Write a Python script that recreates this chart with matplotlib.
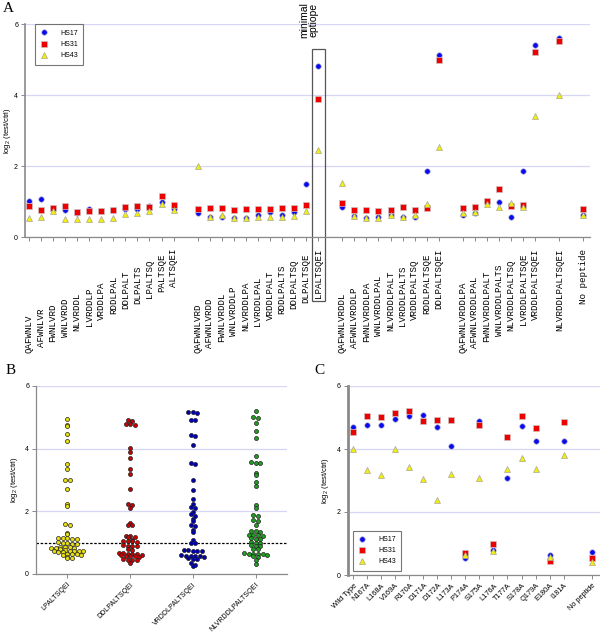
import numpy as np
import matplotlib
matplotlib.use('Agg')
import matplotlib.pyplot as plt
from matplotlib.patches import Rectangle

plt.rcParams['font.family'] = ['Liberation Sans', 'DejaVu Sans']
plt.rcParams['mathtext.default'] = 'regular'

seq = 'QAFWNLVRDDLPALTSQEI'

# panel A: peptide groups (a gap is left between groups)
groups_a = [
    ['QAFWNLV', 'AFWNLVR', 'FWNLVRD', 'WNLVRDD', 'NLVRDDL', 'LVRDDLP', 'VRDDLPA',
     'RDDLPAL', 'DDLPALT', 'DLPALTS', 'LPALTSQ', 'PALTSQE', 'ALTSQEI'],
    ['QAFWNLVRD', 'AFWNLVRDD', 'FWNLVRDDL', 'WNLVRDDLP', 'NLVRDDLPA', 'LVRDDLPAL',
     'VRDDLPALT', 'RDDLPALTS', 'DDLPALTSQ', 'DLPALTSQE', 'LPALTSQEI'],
    ['QAFWNLVRDDL', 'AFWNLVRDDLP', 'FWNLVRDDLPA', 'WNLVRDDLPAL', 'NLVRDDLPALT',
     'LVRDDLPALTS', 'VRDDLPALTSQ', 'RDDLPALTSQE', 'DDLPALTSQEI'],
    ['QAFWNLVRDDLPA', 'AFWNLVRDDLPAL', 'FWNLVRDDLPALT', 'WNLVRDDLPALTS',
     'NLVRDDLPALTSQ', 'LVRDDLPALTSQE', 'VRDDLPALTSQEI'],
    ['NLVRDDLPALTSQEI'],
    ['No peptide'],
]

hs17_a = [1.02, 1.07, 0.82, 0.75, 0.68, 0.78, 0.72, 0.76, 0.80, 0.79, 0.88, 0.99, 0.78,
          0.67, 0.57, 0.57, 0.55, 0.55, 0.61, 0.70, 0.62, 0.70, 1.50, 4.81,
          0.84, 0.58, 0.53, 0.57, 0.63, 0.57, 0.57, 1.86, 5.13,
          0.63, 0.69, 0.99, 0.98, 0.56, 1.87, 5.43,
          5.60, 0.62]
hs31_a = [0.88, 0.75, 0.82, 0.88, 0.70, 0.74, 0.72, 0.75, 0.84, 0.88, 0.85, 1.15, 0.90,
          0.79, 0.83, 0.83, 0.76, 0.79, 0.79, 0.79, 0.83, 0.83, 0.91, 3.89,
          0.97, 0.77, 0.77, 0.74, 0.76, 0.84, 0.75, 0.83, 4.99,
          0.83, 0.84, 1.02, 1.36, 0.87, 0.91, 5.23,
          5.52, 0.79]
hs43_a = [0.55, 0.57, 0.72, 0.52, 0.50, 0.52, 0.52, 0.55, 0.65, 0.69, 0.74, 0.93, 0.76,
          2.01, 0.57, 0.62, 0.55, 0.55, 0.57, 0.57, 0.57, 0.58, 0.74, 2.45,
          1.53, 0.58, 0.53, 0.55, 0.61, 0.57, 0.62, 0.93, 2.55,
          0.69, 0.70, 0.93, 0.84, 0.95, 0.84, 3.41,
          4.01, 0.62]

# panel B: all donors, four peptides
labels_b = ['LPALTSQEI', 'DDLPALTSQEI', 'VRDDLPALTSQEI', 'NLVRDDLPALTSQEI']
vals_b1 = [4.96, 4.75, 4.72, 4.48, 4.24, 3.50, 3.36, 3.00, 2.99, 2.71, 2.24, 2.17, 1.58, 1.55,
           1.30, 1.28, 1.16, 1.15, 1.14, 1.13, 1.12, 1.02, 1.00, 0.99, 0.97, 0.96, 0.87, 0.86,
           0.85, 0.84, 0.83, 0.82, 0.81, 0.76, 0.75, 0.74, 0.74, 0.73, 0.72, 0.71, 0.70, 0.65,
           0.64, 0.63, 0.62, 0.61, 0.54, 0.52, 0.50]
vals_b2 = [4.93, 4.88, 4.80, 4.78, 4.76, 4.03, 3.90, 3.71, 3.35, 3.20, 2.71, 2.24, 2.20, 2.10,
           1.62, 1.57, 1.55, 1.22, 1.20, 1.19, 1.17, 1.08, 1.06, 1.05, 1.04, 1.02, 0.92, 0.90,
           0.89, 0.88, 0.80, 0.78, 0.67, 0.66, 0.65, 0.64, 0.63, 0.62, 0.61, 0.58, 0.57, 0.56,
           0.55, 0.47, 0.46, 0.45, 0.44, 0.34]
vals_b3 = [5.18, 5.16, 5.15, 4.92, 4.90, 4.43, 4.42, 4.13, 3.53, 3.52, 3.00, 2.69, 2.38, 2.22,
           2.13, 2.10, 1.98, 1.90, 1.85, 1.75, 1.70, 1.55, 1.52, 1.40, 1.33, 1.08, 1.00, 0.98,
           0.77, 0.76, 0.75, 0.74, 0.73, 0.60, 0.59, 0.58, 0.57, 0.56, 0.55, 0.50, 0.49, 0.48,
           0.36, 0.30, 0.27]
vals_b4 = [5.20, 5.00, 4.98, 4.83, 4.57, 4.35, 3.76, 3.56, 3.54, 3.53, 3.21, 3.16, 2.95, 2.80,
           2.20, 2.10, 1.88, 1.85, 1.72, 1.70, 1.55, 1.38, 1.36, 1.35, 1.26, 1.25, 1.24, 1.22,
           1.14, 1.13, 1.12, 1.01, 1.00, 0.99, 0.91, 0.90, 0.89, 0.80, 0.79, 0.66, 0.65, 0.64,
           0.64, 0.63, 0.62, 0.56, 0.54, 0.44, 0.32]
colors_b = ['#e8e010', '#cc0000', '#0000b0', '#1f9f1f']

# panel C: alanine scan
labels_c = ['Wild Type', 'N167A', 'L168A', 'V169A', 'R170A', 'D171A', 'D172A', 'L173A',
            'P174A', 'S175A', 'L176A', 'T177A', 'S178A', 'Q179A', 'E180A', 'I181A',
            'No peptide']
hs17_c = [4.70, 4.77, 4.77, 4.95, 5.06, 5.07, 4.70, 4.08, 0.54, 4.88, 0.78, 3.07, 4.72, 4.25,
          0.65, 4.26, 0.74]
hs31_c = [4.54, 5.04, 5.01, 5.15, 5.20, 4.88, 4.93, 4.91, 0.71, 4.76, 0.97, 4.38, 5.04, 4.68,
          0.44, 4.87, 0.54]
hs43_c = [4.01, 3.34, 3.16, 3.99, 3.43, 3.04, 2.39, 3.20, 0.62, 3.07, 0.77, 3.38, 3.71, 3.35,
          0.56, 3.81, 0.41]

W, H = 600, 632
fig = plt.figure(figsize=(W / 100, H / 100), dpi=100)


def style(ax, lw_left, labelpad):
    for s in ['top', 'right']:
        ax.spines[s].set_visible(False)
    ax.spines['left'].set_color('#8a8a8a')
    ax.spines['left'].set_linewidth(lw_left)
    ax.spines['bottom'].set_color('#8a8a8a')
    ax.spines['bottom'].set_linewidth(0.9)
    ax.set_ylim(0, 6)
    ax.set_yticks([0, 2, 4, 6])
    ax.yaxis.grid(True, color='#d6d6f6', lw=0.9)
    ax.set_axisbelow(True)
    ax.tick_params(color='#777777', labelsize=5, length=3, width=0.6, pad=2)
    ax.set_ylabel(r'log$_2$ (test/ctrl)', fontsize=5.5, labelpad=labelpad)


def three_series(ax, x, a, b, c):
    ax.plot(x, a, 'o', ls='none', color='#0a0af0', ms=4.0, mec='#c0c0d0', mew=0.5, label='HS17')
    ax.plot(x, b, 's', ls='none', color='#ee0000', ms=3.7, mec='#d0c0c0', mew=0.5, label='HS31')
    ax.plot(x, c, '^', ls='none', color='#f2ee10', ms=4.3, mec='#a8a890', mew=0.5, label='HS43')


def legend(ax, anchor, loc):
    leg = ax.legend(loc=loc, bbox_to_anchor=anchor, fontsize=5, frameon=True, fancybox=False,
                    edgecolor='#555555', handlelength=1.0, handletextpad=1.8, borderpad=0.8,
                    labelspacing=0.6, borderaxespad=0)
    leg.get_frame().set_linewidth(0.8)


# ---------------- A ----------------
peptides = []
pos_a = []
p = 0
for g in groups_a:
    for pep in g:
        peptides.append(pep)
        pos_a.append(p)
        p += 1
    p += 1

axA = fig.add_axes([25 / W, 1 - 237 / H, 565 / W, 212.7 / H])
style(axA, 1.2, 1.0)
axA.set_xlim(-0.33, 46.55)
three_series(axA, pos_a, hs17_a, hs31_a, hs43_a)
axA.set_xticks(pos_a)
axA.set_xticklabels([])
legend(axA, (0.018, 1.0), 'upper left')

# peptide labels drawn as an alignment: every residue sits at the same height
fs = 6.6
adv_px = 0.6 * fs * 100 / 72
top_px = 248.5          # where the last residue (I) ends
for x, pep in zip(pos_a, peptides):
    end = seq.find(pep) + len(pep) if pep in seq else len(seq)
    y_px = top_px + (len(seq) - end) * adv_px
    xd = axA.transData.transform((x, 0))[0]
    fig.text(xd / W, 1 - y_px / H, pep, rotation=90, rotation_mode='anchor',
             ha='right', va='center', family='Liberation Mono', fontsize=fs)

xb = pos_a[peptides.index('LPALTSQEI')]
axA.add_patch(Rectangle((xb - 0.52, -1.81), 1.07, 7.11, fill=False, ec='#555555', lw=0.9,
                        clip_on=False))
axA.text(xb - 0.8, 5.62, 'minimal\neptiope', rotation=90, ha='center', va='bottom',
         fontsize=7.5, linespacing=0.9)

# ---------------- B ----------------
axB = fig.add_axes([36 / W, 1 - 574 / H, 251 / W, 188 / H])
style(axB, 0.9, 4)
axB.set_xlim(-0.5, 3.5)
axB.axhline(1, color='black', ls=(0, (2, 1.3)), lw=0.9, zorder=1)


def rows_layout(vals, ax, dx_px, dy_px):
    # points falling in the same row are put side by side, centred on the column
    bb = ax.get_position()
    x0, x1 = ax.get_xlim()
    y0, y1 = ax.get_ylim()
    xpu = bb.width * W / (x1 - x0)
    ypu = bb.height * H / (y1 - y0)
    row = np.round(np.array(vals) * ypu / dy_px).astype(int)
    offs = np.zeros(len(vals))
    for r in np.unique(row):
        idx = np.where(row == r)[0]
        n = len(idx)
        offs[idx] = (np.arange(n) - (n - 1) / 2) * dx_px / xpu
    return offs


for k, vals in enumerate([vals_b1, vals_b2, vals_b3, vals_b4]):
    v = np.array(vals)
    xs = k + rows_layout(v, axB, 4.6, 3.5)
    axB.scatter(xs, v, s=8.5, c=colors_b[k], edgecolors='#222222', linewidths=0.5, zorder=3)

axB.set_xticks(range(len(labels_b)))
axB.set_xticklabels(labels_b, rotation=45, ha='right', rotation_mode='anchor', fontsize=5)

# ---------------- C ----------------
pos_c = list(range(len(labels_c) - 1)) + [len(labels_c)]
axC = fig.add_axes([347.7 / W, 1 - 575 / H, 252.3 / W, 189 / H])
style(axC, 2.0, 4)
axC.set_xlim(-0.4, 17.6)
three_series(axC, pos_c, hs17_c, hs31_c, hs43_c)
axC.set_xticks(pos_c)
axC.set_xticklabels(labels_c, rotation=45, ha='right', rotation_mode='anchor', fontsize=5.3)
legend(axC, (0.021, 0.021), 'lower left')

for lab, x, y in [('A', 3, 2), ('B', 6, 364), ('C', 314, 364)]:
    fig.text(x / W, 1 - y / H, lab, family='Liberation Serif', fontsize=11, va='top')

plt.savefig('out.png', dpi=100)
